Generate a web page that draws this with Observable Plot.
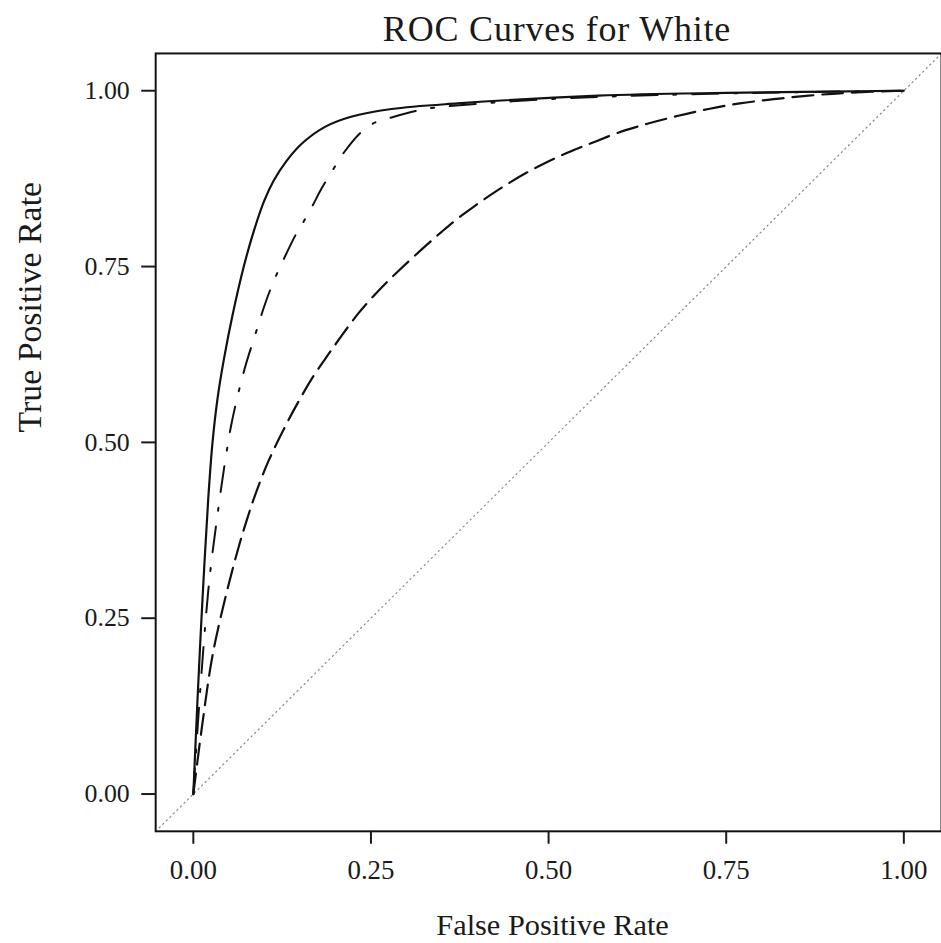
<!DOCTYPE html>
<html>
<head>
<meta charset="utf-8">
<script src="https://cdn.jsdelivr.net/npm/d3@7"></script>
<script src="https://cdn.jsdelivr.net/npm/@observablehq/plot@0.6"></script>
<style>
  html, body { margin: 0; padding: 0; background: #fff; overflow: hidden; width: 941px; height: 943px; }
  #wrap { position: relative; width: 941px; height: 943px; overflow: hidden; }
  #title { position: absolute; top: 11px; left: 557px; transform: translateX(-50%); white-space: nowrap;
           font-family: "Liberation Serif", "DejaVu Serif", serif; font-size: 36px; line-height: 36px;
           letter-spacing: 0.8px; color: #1a1a1a; }
  #chart { position: absolute; top: 45px; left: 0; }
</style>
</head>
<body>
<div id="wrap">
  <div id="title">ROC Curves for White</div>
  <div id="chart"></div>
</div>
<script>
// Axis setup
const domainXY = [-0.053, 1.053];
const xTicks = [0, 0.25, 0.5, 0.75, 1];
const yTicks = [0, 0.25, 0.5, 0.75, 1];
const xLabel = "False Positive Rate";
const yLabel = "True Positive Rate";

// Curve 1 (solid)
const solidFPR = [0, 0.006, 0.013, 0.021, 0.027, 0.034, 0.043, 0.055, 0.071, 0.085, 0.100, 0.113, 0.131, 0.154, 0.186, 0.222, 0.279, 0.372, 0.57, 0.75, 1];
const solidTPR = [0, 0.137, 0.279, 0.420, 0.500, 0.562, 0.618, 0.680, 0.750, 0.800, 0.844, 0.872, 0.900, 0.926, 0.949, 0.963, 0.974, 0.982, 0.993, 0.997, 1];

// Curve 2 (dash-dot)
const dashDotFPR = [0, 0.007, 0.015, 0.021, 0.026, 0.032, 0.039, 0.046, 0.053, 0.064, 0.074, 0.088, 0.097, 0.106, 0.116, 0.127, 0.144, 0.153, 0.167, 0.181, 0.195, 0.209, 0.235, 0.256, 0.279, 0.317, 0.340, 0.5, 0.7, 1];
const dashDotTPR = [0, 0.109, 0.218, 0.289, 0.335, 0.382, 0.434, 0.481, 0.523, 0.573, 0.611, 0.656, 0.685, 0.711, 0.736, 0.760, 0.795, 0.810, 0.835, 0.862, 0.885, 0.908, 0.940, 0.955, 0.962, 0.972, 0.976, 0.988, 0.995, 1];

// Curve 3 (long dash)
const dashFPR = [0, 0.013, 0.027, 0.046, 0.064, 0.076, 0.088, 0.106, 0.130, 0.148, 0.167, 0.190, 0.209, 0.232, 0.261, 0.289, 0.321, 0.349, 0.373, 0.42, 0.47, 0.52, 0.569, 0.597, 0.639, 0.681, 0.725, 0.769, 0.817, 0.866, 0.919, 1];
const dashTPR = [0, 0.102, 0.197, 0.283, 0.352, 0.392, 0.428, 0.474, 0.524, 0.558, 0.591, 0.625, 0.652, 0.683, 0.716, 0.744, 0.774, 0.799, 0.819, 0.853, 0.884, 0.909, 0.929, 0.940, 0.953, 0.964, 0.974, 0.982, 0.988, 0.993, 0.997, 1];

const toRows = (xs, ys) => xs.map((x, i) => ({x, y: ys[i]}));
const solid = toRows(solidFPR, solidTPR);
const dashDot = toRows(dashDotFPR, dashDotTPR);
const dashed = toRows(dashFPR, dashTPR);
const diagonal = toRows(domainXY, domainXY);

const fmt = d3.format(".2f");

const chart = Plot.plot({
  width: 946,
  height: 898,
  marginLeft: 156,
  marginRight: 0,
  marginTop: 8,
  marginBottom: 108,
  style: { fontFamily: "'Liberation Serif', 'DejaVu Serif', serif", color: "#1a1a1a", background: "#fff", overflow: "visible" },
  x: { domain: domainXY },
  y: { domain: domainXY },
  marks: [
    Plot.line(diagonal, { x: "x", y: "y", stroke: "#888", strokeWidth: 1.2, strokeDasharray: "1.2,3.8", clip: true }),
    Plot.line(dashed, { x: "x", y: "y", stroke: "#111", strokeWidth: 2.2, strokeDasharray: "21,9", curve: "catmull-rom", clip: true }),
    Plot.line(dashDot, { x: "x", y: "y", stroke: "#111", strokeWidth: 2, strokeDasharray: "26,16,3,16", curve: "catmull-rom", clip: true }),
    Plot.line(solid, { x: "x", y: "y", stroke: "#111", strokeWidth: 2.2, curve: "catmull-rom", clip: true }),
    Plot.frame({ stroke: "#111", strokeWidth: 2 }),
    Plot.axisX({ ticks: xTicks, tickFormat: fmt, tickSize: 13, tickPadding: 16, fontSize: 27, strokeWidth: 2, label: null }),
    Plot.axisY({ ticks: yTicks, tickFormat: fmt, tickSize: 14, tickPadding: 12, fontSize: 26, strokeWidth: 2, label: null }),
    Plot.text([xLabel], { frameAnchor: "bottom", dx: 4, dy: 94, text: d => d, fontSize: 30.5, lineAnchor: "middle", fill: "#1a1a1a" }),
    Plot.text([yLabel], { frameAnchor: "left", dx: -126, dy: -10, rotate: -90, text: d => d, fontSize: 34, lineAnchor: "middle", fill: "#1a1a1a" })
  ]
});
document.getElementById("chart").appendChild(chart);
</script>
</body>
</html>
